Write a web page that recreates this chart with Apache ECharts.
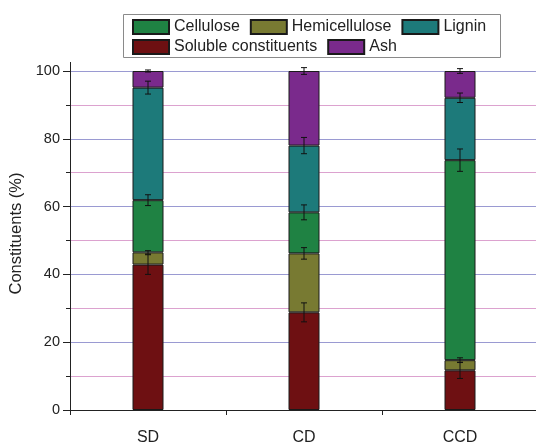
<!DOCTYPE html>
<html><head><meta charset="utf-8">
<script src="https://cdn.jsdelivr.net/npm/echarts@6/dist/echarts.min.js"></script>
<style>html,body{margin:0;padding:0;background:#fff}#c{width:536px;height:442px}</style>
</head><body><div id="c"></div>
<script>
const categories = ['SD', 'CD', 'CCD'];
const soluble = [42.9, 28.8, 11.7];
const hemicellulose = [3.6, 17.4, 3.0];
const cellulose = [15.4, 12.1, 59.0];
const lignin = [33.2, 19.7, 18.4];
const ash = [4.9, 22.0, 7.9];
const solubleErr = [2.9, 2.8, 2.4];
const hemicelluloseErr = [0.5, 1.7, 0.7];
const celluloseErr = [1.6, 2.2, 3.3];
const ligninErr = [1.9, 2.4, 1.4];
const ashErr = [0.3, 1.0, 0.7];
const yTicks = [0, 20, 40, 60, 80, 100];

const stackOrder = [
  {name: 'Soluble constituents', data: soluble, err: solubleErr, color: '#6e1012'},
  {name: 'Hemicellulose', data: hemicellulose, err: hemicelluloseErr, color: '#787a32'},
  {name: 'Cellulose', data: cellulose, err: celluloseErr, color: '#1f8243'},
  {name: 'Lignin', data: lignin, err: ligninErr, color: '#1d7a7a'},
  {name: 'Ash', data: ash, err: ashErr, color: '#7a2a8c'}
];

const errData = [];
const cum = categories.map(() => 0);
stackOrder.forEach(s => {
  s.data.forEach((v, i) => {
    cum[i] += v;
    errData.push([i, cum[i] - s.err[i], cum[i] + s.err[i]]);
  });
});

const font = 'Liberation Sans, Arial, sans-serif';
const series = stackOrder.map(s => ({
  name: s.name, type: 'bar', stack: 'total', barWidth: 31,
  data: s.data,
  itemStyle: {color: s.color, borderColor: '#1a1a1a', borderWidth: 1},
  emphasis: {disabled: true}
}));
series.push({
  type: 'custom', name: 'err', z: 10,
  data: errData,
  renderItem: function (params, api) {
    const x = api.value(0);
    const lo = api.coord([x, api.value(1)]);
    const hi = api.coord([x, api.value(2)]);
    const hw = 3;
    const st = {stroke: '#111', lineWidth: 1};
    return {type: 'group', children: [
      {type: 'line', shape: {x1: lo[0], y1: lo[1], x2: hi[0], y2: hi[1]}, style: st},
      {type: 'line', shape: {x1: lo[0]-hw, y1: lo[1], x2: lo[0]+hw, y2: lo[1]}, style: st},
      {type: 'line', shape: {x1: hi[0]-hw, y1: hi[1], x2: hi[0]+hw, y2: hi[1]}, style: st}
    ]};
  }
});

const legendCommon = {
  itemWidth: 36, itemHeight: 14, itemGap: 10, padding: 0, selectedMode: false, icon: 'rect',
  textStyle: {fontFamily: font, fontSize: 16, color: '#222'}
};

const chart = echarts.init(document.getElementById('c'));
chart.setOption({
  animation: false,
  textStyle: {fontFamily: font},
  graphic: [
    {type: 'rect', shape: {x: 123.5, y: 14.5, width: 377, height: 43},
      style: {fill: 'none', stroke: '#8a8a8a', lineWidth: 1}, z: 0},
    {type: 'line', shape: {x1: 70.5, y1: 62, x2: 70.5, y2: 72},
      style: {stroke: '#222', lineWidth: 1}, z: 5}
  ],
  legend: [
    Object.assign({left: 132, top: 19, data: ['Cellulose', 'Hemicellulose', 'Lignin']}, legendCommon),
    Object.assign({left: 132, top: 39, data: ['Soluble constituents', 'Ash']}, legendCommon)
  ],
  grid: {left: 70, top: 71, width: 468, height: 339, containLabel: false, outerBoundsMode: 'none'},
  xAxis: {
    type: 'category', data: categories,
    axisLine: {lineStyle: {color: '#222', width: 1}},
    axisTick: {show: true, length: 5, lineStyle: {color: '#222'}, alignWithLabel: false},
    axisLabel: {fontSize: 16, color: '#222', margin: 20, fontFamily: font}
  },
  yAxis: {
    type: 'value', min: 0, max: 100, interval: 20,
    name: 'Constituents (%)', nameLocation: 'middle', nameGap: 41, nameRotate: 90,
    nameTextStyle: {fontSize: 16.5, color: '#222', fontFamily: font, padding: [0, 0, 0, 14]},
    axisLine: {show: true, lineStyle: {color: '#222', width: 1}},
    axisTick: {show: true, length: 7, lineStyle: {color: '#222'}},
    minorTick: {show: true, splitNumber: 2, length: 4, lineStyle: {color: '#222'}},
    axisLabel: {fontSize: 14.5, color: '#222', margin: 10, fontFamily: font,
      formatter: v => yTicks.indexOf(v) >= 0 ? String(v) : ''},
    splitLine: {show: true, lineStyle: {color: '#9a9ad2', width: 1}},
    minorSplitLine: {show: true, lineStyle: {color: '#dca2cf', width: 1}}
  },
  series: series
});
</script>
</body></html>
